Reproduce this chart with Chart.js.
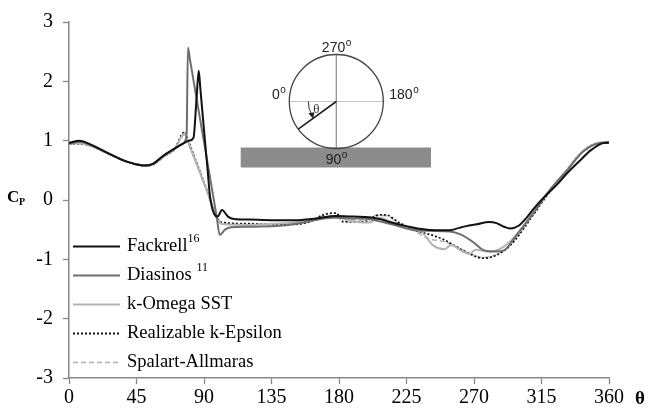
<!DOCTYPE html>
<html>
<head>
<meta charset="utf-8">
<script src="https://cdn.jsdelivr.net/npm/chart.js@4.4.1/dist/chart.umd.min.js"></script>
<style>
  html, body { margin: 0; padding: 0; background: #fff; }
</style>
</head>
<body>
<canvas id="chart" width="653" height="408"></canvas>
<script>
// series names as printed in the legend, with their reference superscripts
const seriesNames = ['Fackrell', 'Diasinos ', 'k-Omega SST', 'Realizable k-Epsilon', 'Spalart-Allmaras'];
const seriesRefs = ['16', '11', '', '', ''];

const xTicks = [0, 45, 90, 135, 180, 225, 270, 315, 360];
const yTicks = [-3, -2, -1, 0, 1, 2, 3];

// Fackrell (experiment)
const thetaFackrell = [0, 7, 15, 22, 30, 38, 45, 50, 56, 63, 70, 76, 80, 83, 85, 86.5, 87.5, 90, 92.5, 94, 99, 102, 106, 110,
  120, 135, 150, 165, 178, 190, 200, 207, 215, 225, 235, 245, 254, 260, 265, 272, 280, 285, 290, 294,
  300, 305, 310, 318, 325, 332, 340, 348, 355, 360];
const cpFackrell = [0.96, 1.0, 0.93, 0.84, 0.74, 0.65, 0.6, 0.58, 0.61, 0.75, 0.86, 0.95, 1.0, 1.05, 1.7, 2.18, 1.9, 1.18, 0.48, 0.06, -0.28, -0.17, -0.28, -0.32,
  -0.33, -0.34, -0.34, -0.31, -0.27, -0.28, -0.29, -0.32, -0.38, -0.44, -0.49, -0.51, -0.51, -0.47, -0.44, -0.41, -0.37, -0.39, -0.45, -0.48,
  -0.43, -0.3, -0.14, 0.08, 0.25, 0.45, 0.65, 0.84, 0.95, 0.97];

// Diasinos (experiment)
const thetaDiasinos = [0, 7, 15, 22, 30, 38, 45, 50, 56, 63, 70, 76, 78.4, 79.3, 80.5, 86, 93, 98.5, 100.5, 104, 108, 120, 138, 152,
  160, 176, 190, 200, 207, 215, 229, 240, 254, 261, 270, 276, 285, 290, 298, 309.5, 320, 332, 343, 354, 360];
const cpDiasinos = [0.95, 0.98, 0.92, 0.84, 0.74, 0.65, 0.6, 0.58, 0.61, 0.74, 0.86, 0.95, 1.1, 2.57, 2.39, 1.57, 0.53, -0.29, -0.59, -0.5, -0.46, -0.45, -0.44, -0.40,
  -0.36, -0.30, -0.31, -0.32, -0.36, -0.41, -0.5, -0.52, -0.53, -0.58, -0.72, -0.84, -0.87, -0.85, -0.6, -0.22, 0.15, 0.5, 0.82, 0.96, 0.97];

// k-Omega SST
const thetaKOmega = [0, 7, 15, 22, 30, 38, 45, 50, 56, 63, 70, 77.3, 78.5, 84, 91, 99.5, 103, 120, 135, 150, 165, 178, 184,
  192, 200, 207, 215, 229, 234, 243, 250, 255, 261, 267, 271, 280, 287, 298, 309.5, 320.7, 331.8, 343, 354, 360];
const cpKOmega = [0.95, 0.96, 0.91, 0.83, 0.74, 0.65, 0.6, 0.58, 0.6, 0.73, 0.85, 1.12, 1.04, 0.68, 0.22, -0.35, -0.41, -0.42, -0.40, -0.38, -0.32, -0.27, -0.33,
  -0.37, -0.38, -0.30, -0.37, -0.5, -0.52, -0.77, -0.83, -0.76, -0.85, -0.91, -0.84, -0.87, -0.83, -0.6, -0.22, 0.17, 0.5, 0.83, 0.97, 0.98];

// Realizable k-Epsilon
const thetaKEps = [0, 7, 15, 22, 30, 38, 45, 50, 56, 63, 70, 77.3, 78.5, 84, 91, 99.5, 103, 121, 135, 150, 160, 169.6, 178,
  183, 196, 207, 211, 220, 229.5, 243, 250, 265, 276, 283, 294, 309.5, 320.7, 331.8, 343, 354, 360];
const cpKEps = [0.95, 0.95, 0.91, 0.83, 0.74, 0.65, 0.6, 0.58, 0.6, 0.73, 0.85, 1.15, 1.07, 0.7, 0.23, -0.33, -0.38, -0.40, -0.41, -0.41, -0.37, -0.25, -0.22,
  -0.37, -0.37, -0.25, -0.25, -0.38, -0.5, -0.6, -0.67, -0.88, -0.98, -0.95, -0.77, -0.25, 0.15, 0.5, 0.83, 0.96, 0.96];

// Spalart-Allmaras
const thetaSA = [0, 7, 15, 22, 30, 38, 45, 50, 56, 63, 70, 77, 78.5, 84, 91, 99.5, 103, 121, 135, 150, 160, 170, 180,
  186, 196, 205, 212, 220, 230, 241, 250, 265, 276, 283, 294, 309.5, 320.7, 331.8, 343, 354, 360];
const cpSA = [0.94, 0.95, 0.9, 0.83, 0.74, 0.65, 0.6, 0.58, 0.6, 0.73, 0.85, 1.1, 1.02, 0.67, 0.21, -0.34, -0.4, -0.41, -0.41, -0.4, -0.35, -0.27, -0.27,
  -0.33, -0.34, -0.26, -0.27, -0.4, -0.52, -0.66, -0.7, -0.87, -0.97, -0.94, -0.76, -0.24, 0.16, 0.5, 0.83, 0.96, 0.96];

function pts(xs, ys) {
  return xs.map((t, i) => ({ x: t, y: ys[i] }));
}

function line(label, xs, ys, color, width, dash) {
  return {
    label: label,
    data: pts(xs, ys),
    borderColor: color,
    borderWidth: width,
    borderDash: dash,
    pointRadius: 0,
    fill: false,
    cubicInterpolationMode: 'monotone'
  };
}

const serif = '"Liberation Serif", "Times New Roman", serif';
const sans = '"Liberation Sans", Arial, sans-serif';

// degree label with a raised small "o"
function degLabel(ctx, txt, x, y, align) {
  ctx.font = '14px ' + sans;
  const w = ctx.measureText(txt).width;
  ctx.font = '10px ' + sans;
  const wo = ctx.measureText('o').width;
  let left = x;
  if (align === 'center') left = x - (w + wo) / 2;
  if (align === 'right') left = x - w - wo;
  ctx.font = '14px ' + sans;
  ctx.fillText(txt, left, y);
  ctx.font = '10px ' + sans;
  ctx.fillText('o', left + w + 0.5, y - 6);
}

const extras = {
  id: 'extras',
  afterDraw(chart) {
    const ctx = chart.ctx;
    const xs = chart.scales.x, ys = chart.scales.y;
    ctx.save();
    ctx.fillStyle = '#000';
    ctx.textBaseline = 'alphabetic';
    ctx.textAlign = 'left';

    // axis titles
    ctx.font = 'bold 17px ' + serif;
    ctx.fillText('C', 7, 202);
    ctx.font = 'bold 10px ' + serif;
    ctx.fillText('P', 19, 205);
    ctx.font = 'bold 19px ' + serif;
    ctx.fillText('\u03b8', 635, 404);

    // inset sketch: cylinder over the ground plate
    const cx = xs.getPixelForValue(178.2);
    const cy = ys.getPixelForValue(1.66);
    const r = 47;
    ctx.fillStyle = '#8c8c8c';
    ctx.fillRect(cx - 95.6, cy + 46, 190.3, 20);

    ctx.lineWidth = 1;
    ctx.strokeStyle = '#c4c4c4';
    ctx.beginPath(); ctx.moveTo(cx - r, cy); ctx.lineTo(cx + r, cy); ctx.stroke();
    ctx.strokeStyle = '#8a8a8a';
    ctx.lineWidth = 1.2;
    ctx.beginPath(); ctx.moveTo(cx, cy - r); ctx.lineTo(cx, cy + r); ctx.stroke();

    ctx.strokeStyle = '#444';
    ctx.lineWidth = 1.3;
    ctx.beginPath(); ctx.arc(cx, cy, r, 0, Math.PI * 2); ctx.stroke();

    const a = 144 * Math.PI / 180;
    ctx.strokeStyle = '#222';
    ctx.lineWidth = 1.6;
    ctx.beginPath(); ctx.moveTo(cx, cy); ctx.lineTo(cx + r * Math.cos(a), cy + r * Math.sin(a)); ctx.stroke();

    // theta arc with arrow
    const ra = 28, a1 = 152 * Math.PI / 180;
    ctx.lineWidth = 1;
    ctx.strokeStyle = '#333';
    ctx.beginPath(); ctx.arc(cx, cy, ra, Math.PI, a1, true); ctx.stroke();
    const ex = cx + ra * Math.cos(a1), ey = cy + ra * Math.sin(a1);
    ctx.fillStyle = '#222';
    ctx.beginPath();
    ctx.moveTo(ex + 1.5, ey + 4);
    ctx.lineTo(ex - 3.2, ey - 1.5);
    ctx.lineTo(ex + 2.8, ey - 2.5);
    ctx.closePath(); ctx.fill();
    ctx.fillStyle = '#333';
    ctx.font = '13px ' + serif;
    ctx.fillText('\u03b8', cx - 23, cy + 11);

    ctx.fillStyle = '#222';
    degLabel(ctx, '270', cx, cy - 50, 'center');
    degLabel(ctx, '0', cx - 51, cy - 3, 'right');
    degLabel(ctx, '180', cx + 53, cy - 3, 'left');
    degLabel(ctx, '90', cx, cy + 62, 'center');

    // legend in the lower left of the plot
    chart.data.datasets.forEach((ds, i) => {
      const yy = 246.5 + i * 29;
      ctx.strokeStyle = ds.borderColor;
      ctx.lineWidth = ds.borderWidth;
      ctx.setLineDash(ds.borderDash || []);
      ctx.beginPath(); ctx.moveTo(73, yy); ctx.lineTo(120, yy); ctx.stroke();
      ctx.setLineDash([]);
      ctx.fillStyle = '#000';
      ctx.textBaseline = 'middle';
      ctx.font = '18.5px ' + serif;
      ctx.fillText(seriesNames[i], 127, yy);
      if (seriesRefs[i]) {
        const w = ctx.measureText(seriesNames[i]).width;
        ctx.font = '12px ' + serif;
        ctx.fillText(seriesRefs[i], 127 + w, yy - 8);
      }
    });
    ctx.restore();
  }
};

new Chart(document.getElementById('chart'), {
  type: 'line',
  data: {
    datasets: [
      line(seriesNames[0], thetaFackrell, cpFackrell, '#111111', 2, []),
      line(seriesNames[1], thetaDiasinos, cpDiasinos, '#6e6e6e', 2, []),
      line(seriesNames[2], thetaKOmega, cpKOmega, '#b4b4b4', 2, []),
      line(seriesNames[3], thetaKEps, cpKEps, '#111111', 1.8, [2, 2]),
      line(seriesNames[4], thetaSA, cpSA, '#b0b0b0', 1.5, [5, 3])
    ]
  },
  options: {
    responsive: false,
    animation: false,
    layout: { padding: { top: 15, right: 44, left: 0, bottom: 0 }, autoPadding: false },
    plugins: { legend: { display: false }, tooltip: { enabled: false } },
    scales: {
      x: {
        type: 'linear',
        min: 0,
        max: 360,
        afterBuildTicks(s) { s.ticks = xTicks.map(v => ({ value: v })); },
        ticks: { color: '#000', padding: 2, maxRotation: 0, font: { family: serif, size: 20 } },
        grid: { drawOnChartArea: false, color: '#888', tickLength: 6, tickWidth: 1.3 },
        border: { color: '#888', width: 1.5 },
        afterFit(s) { s.height = 30; }
      },
      y: {
        type: 'linear',
        min: -3,
        max: 3,
        afterBuildTicks(s) { s.ticks = yTicks.map(v => ({ value: v })); },
        ticks: { color: '#000', padding: 10, font: { family: serif, size: 20 } },
        grid: { drawOnChartArea: false, color: '#888', tickLength: 6, tickWidth: 1.3 },
        border: { color: '#888', width: 1.5 },
        afterFit(s) { s.width = 69; }
      }
    }
  },
  plugins: [extras]
});
</script>
</body>
</html>
